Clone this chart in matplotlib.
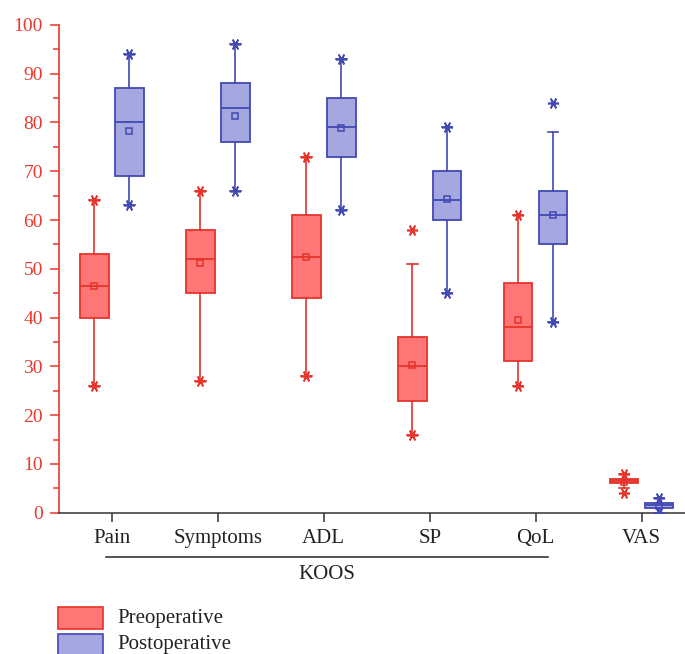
import matplotlib
matplotlib.use("Agg")
import matplotlib.pyplot as plt
from matplotlib.patches import Rectangle
from matplotlib.lines import Line2D
import numpy as np

# ---------------------------------------------------------------------------
# Data
# ---------------------------------------------------------------------------
categories = ["Pain", "Symptoms", "ADL", "SP", "QoL", "VAS"]

pre_q1     = [40, 45, 44, 23, 31, 6]
pre_med    = [46.5, 52, 52.5, 30, 38, 6.5]
pre_q3     = [53, 58, 61, 36, 47, 7]
pre_whislo = [26, 27, 28, 16, 26, 5]
pre_whishi = [64, 66, 73, 51, 61, 8]
pre_mean   = [46.4, 51.2, 52.4, 30.3, 39.5, 6.2]
pre_min    = [26, 27, 28, 16, 26, 4]
pre_max    = [64, 66, 73, 58, 61, 8]

post_q1     = [69, 76, 73, 60, 55, 1]
post_med    = [80, 83, 79, 64, 61, 1.5]
post_q3     = [87, 88, 85, 70, 66, 2]
post_whislo = [63, 66, 62, 45, 39, 0]
post_whishi = [94, 96, 93, 79, 78, 3]
post_mean   = [78.3, 81.4, 78.9, 64.3, 61.0, 1.4]
post_min    = [63, 66, 62, 45, 39, 0]
post_max    = [94, 96, 93, 79, 84, 3]

legend_labels = ["Preoperative", "Postoperative"]
group_label = "KOOS"

# ---------------------------------------------------------------------------
# Style
# ---------------------------------------------------------------------------
PRE_EDGE, PRE_FILL = "#e5342b", "#ff7676"
POST_EDGE, POST_FILL = "#4249b2", "#a4a7e0"
AX_RED = "#e8392e"
FONT = "Liberation Serif"

plt.rcParams["font.family"] = FONT

fig = plt.figure(figsize=(6.85, 6.54), dpi=100)
ax = fig.add_axes([0.086, 0.216, 0.914, 0.746])

x = np.arange(len(categories))
offset, width = 0.165, 0.27


def stats(q1, med, q3, lo, hi, mean):
    return [dict(q1=a, med=b, q3=c, whislo=d, whishi=e, mean=f, fliers=[])
            for a, b, c, d, e, f in zip(q1, med, q3, lo, hi, mean)]


def draw(st, pos, edge, fill, mins, maxs):
    ax.bxp(st, positions=pos, widths=width, patch_artist=True,
           showmeans=True, capwidths=0.1,
           boxprops=dict(facecolor=fill, edgecolor=edge, linewidth=1.3),
           medianprops=dict(color=edge, linewidth=1.3),
           whiskerprops=dict(color=edge, linewidth=1.2),
           capprops=dict(color=edge, linewidth=1.2),
           meanprops=dict(marker="s", markersize=5, markerfacecolor="none",
                          markeredgecolor=edge, markeredgewidth=1.1),
           manage_ticks=False, zorder=3)
    ax.plot(pos, mins, ls="none", marker=(6, 2, 90), markersize=8,
            color=edge, markeredgewidth=1.2, zorder=4)
    ax.plot(pos, maxs, ls="none", marker=(6, 2, 90), markersize=8,
            color=edge, markeredgewidth=1.2, zorder=4)


draw(stats(pre_q1, pre_med, pre_q3, pre_whislo, pre_whishi, pre_mean),
     x - offset, PRE_EDGE, PRE_FILL, pre_min, pre_max)
draw(stats(post_q1, post_med, post_q3, post_whislo, post_whishi, post_mean),
     x + offset, POST_EDGE, POST_FILL, post_min, post_max)

# Axes styling
ax.set_xlim(-0.5, 5.41)
ax.set_ylim(0, 100)
ax.set_xticks(x)
ax.set_xticklabels(categories, fontsize=15, color="#222222")
ax.set_yticks(np.arange(0, 101, 10))
ax.set_yticks(np.arange(5, 100, 10), minor=True)
ax.tick_params(axis="y", which="major", length=6.5, width=1.1, colors=AX_RED,
               labelsize=14, pad=5)
ax.tick_params(axis="y", which="minor", length=4.3, width=1.1, colors=AX_RED)
ax.tick_params(axis="x", which="major", length=6.5, width=1.1, color="#333333",
               pad=5)
for side in ("top", "right"):
    ax.spines[side].set_visible(False)
ax.spines["left"].set_color(AX_RED)
ax.spines["left"].set_linewidth(1.2)
ax.spines["bottom"].set_color("#333333")
ax.spines["bottom"].set_linewidth(1.1)

# KOOS bracket line under the first five categories
trans = ax.get_xaxis_transform()
ax.add_line(Line2D([-0.056, 4.12], [-0.0915, -0.0915], transform=trans,
                   color="#222222", linewidth=1.1, clip_on=False))
ax.text(2.03, -0.126, group_label, transform=trans, ha="center", va="center",
        fontsize=15, color="#222222")

# Legend drawn in figure coordinates
for i, (lab, edge, fill) in enumerate(zip(legend_labels, [PRE_EDGE, POST_EDGE],
                                          [PRE_FILL, POST_FILL])):
    y0 = 1 - (629 + i * 27) / 654
    fig.add_artist(Rectangle((0.085, y0), 0.065, 22 / 654, transform=fig.transFigure,
                             facecolor=fill, edgecolor=edge, linewidth=1.2))
    fig.text(0.171, y0 + 11 / 654, lab, fontsize=15, color="#222222",
             va="center", ha="left")

fig.savefig("out.png", dpi=100)
